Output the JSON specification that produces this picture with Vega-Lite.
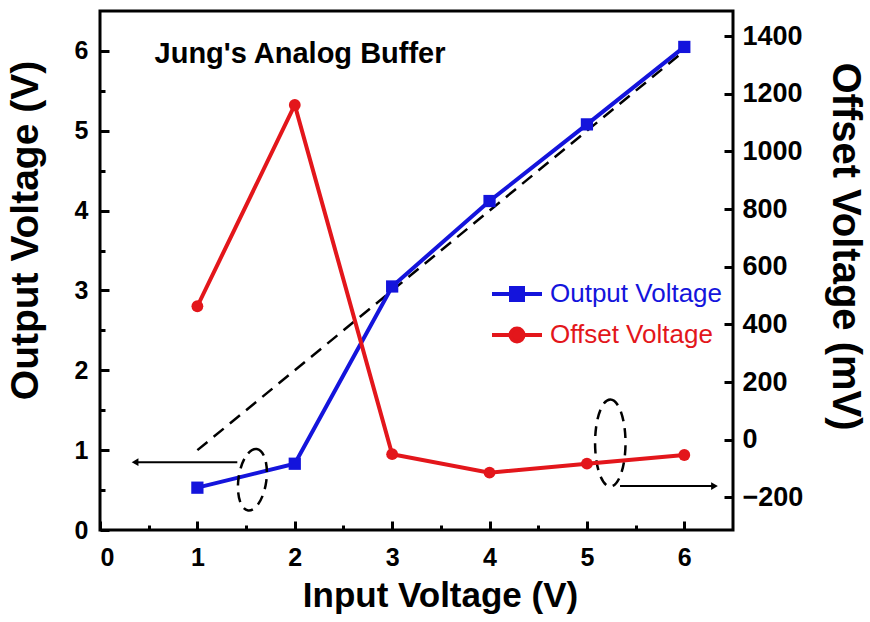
{
  "$schema": "https://vega.github.io/schema/vega-lite/v6.json",
  "width": 633,
  "height": 519,
  "autosize": "none",
  "padding": {"left": 100, "top": 11, "right": 137, "bottom": 92},
  "background": "white",
  "config": {
    "view": {"stroke": "black", "strokeWidth": 3},
    "font": "Liberation Sans",
    "axis": {
      "grid": false, "domain": false, "tickColor": "black", "tickWidth": 3, "labelOverlap": false,
      "labelFont": "Liberation Sans", "labelFontSize": 25, "labelFontWeight": "bold", "labelColor": "black",
      "titleFont": "Liberation Sans", "titleFontWeight": "bold", "titleColor": "black"
    }
  },
  "datasets": {
    "out": [
      {"x": 1, "v": 0.53, "s": "Output Voltage"},
      {"x": 2, "v": 0.83, "s": "Output Voltage"},
      {"x": 3, "v": 3.05, "s": "Output Voltage"},
      {"x": 4, "v": 4.12, "s": "Output Voltage"},
      {"x": 5, "v": 5.08, "s": "Output Voltage"},
      {"x": 6, "v": 6.05, "s": "Output Voltage"}
    ],
    "off": [
      {"x": 1, "v": 463, "s": "Offset Voltage"},
      {"x": 2, "v": 1161, "s": "Offset Voltage"},
      {"x": 3, "v": -50, "s": "Offset Voltage"},
      {"x": 4, "v": -114, "s": "Offset Voltage"},
      {"x": 5, "v": -83, "s": "Offset Voltage"},
      {"x": 6, "v": -53, "s": "Offset Voltage"}
    ],
    "ideal": [{"x": 1, "v": 1}, {"x": 6, "v": 6}],
    "arrows": [
      {"id": "L", "x": 1.41, "v": 0.85}, {"id": "L", "x": 0.36, "v": 0.85},
      {"id": "R", "x": 5.34, "v": 0.55}, {"id": "R", "x": 6.31, "v": 0.55}
    ],
    "heads": [{"dir": "left", "x": 0.36, "v": 0.85}, {"dir": "right", "x": 6.31, "v": 0.55}],
    "ellL": [{"x": 1.565, "v": 0.63}],
    "ellR": [{"x": 5.24, "v": 1.09}],
    "note": [{"x": 0.56, "v": 5.96, "label": "Jung's Analog Buffer"}]
  },
  "layer": [
    {
      "layer": [
        {
          "data": {"name": "ideal"},
          "mark": {"type": "line", "color": "black", "strokeDash": [13, 8], "strokeWidth": 2.5},
          "encoding": {
            "x": {"field": "x", "type": "quantitative", "scale": {"domain": [0, 6.5], "nice": false, "zero": false},
              "axis": {"title": "Input Voltage (V)", "titleFontSize": 35, "titleX": 340, "values": [0,0.5,1,1.5,2,2.5,3,3.5,4,4.5,5,5.5,6],
                "labelExpr": "datum.value % 1 === 0 ? format(datum.value, 'd') : ''",
                "tickSize": -9,
                "tickDash": {"condition": {"test": "datum.value % 1 !== 0", "value": [5, 30]}, "value": [20, 1]},
                "labelPadding": 24, "titlePadding": 8}},
            "y": {"field": "v", "type": "quantitative", "scale": {"domain": [0, 6.5], "nice": false, "zero": false},
              "axis": {"orient": "left", "title": "Output Voltage (V)", "titleFontSize": 39, "titleY": 219, "values": [0,0.5,1,1.5,2,2.5,3,3.5,4,4.5,5,5.5,6],
                "labelExpr": "datum.value % 1 === 0 ? format(datum.value, 'd') : ''",
                "tickSize": -9,
                "tickDash": {"condition": {"test": "datum.value % 1 !== 0", "value": [5, 30]}, "value": [20, 1]},
                "labelPadding": 21, "titlePadding": 29}}
          }
        },
        {
          "data": {"name": "out"},
          "mark": {"type": "line", "strokeWidth": 4},
          "encoding": {
            "x": {"field": "x", "type": "quantitative"},
            "y": {"field": "v", "type": "quantitative"},
            "color": {"field": "s", "type": "nominal",
              "scale": {"domain": ["Output Voltage", "Offset Voltage"], "range": ["#1414dc", "#e3161b"]},
              "legend": {"orient": "none", "legendX": 390, "legendY": 256, "title": null,
                "labelFont": "Liberation Sans", "labelFontSize": 26, "labelOffset": 6, "rowPadding": -9, "labelLimit": 400,
                "symbolSize": 2500, "symbolStrokeWidth": 4,
                "symbolType": {"expr": "datum.value == 'Output Voltage' ? 'M-1,0L-0.24,0M0.24,0L1,0M-0.24,-0.24H0.24V0.24H-0.24Z' : 'M-1,0L-0.26,0M0.26,0L1,0M0.26,0A0.26,0.26 0 1,1 -0.26,0A0.26,0.26 0 1,1 0.26,0Z'"},
                "labelColor": {"expr": "datum.value == 'Output Voltage' ? '#1414dc' : '#e3161b'"}}}
          }
        },
        {
          "data": {"name": "out"},
          "mark": {"type": "point", "shape": "square", "filled": true, "size": 150, "opacity": 1},
          "encoding": {
            "x": {"field": "x", "type": "quantitative"},
            "y": {"field": "v", "type": "quantitative"},
            "color": {"field": "s", "type": "nominal"}
          }
        },
        {
          "data": {"name": "arrows"},
          "mark": {"type": "line", "color": "black", "strokeWidth": 2},
          "encoding": {
            "x": {"field": "x", "type": "quantitative"},
            "y": {"field": "v", "type": "quantitative"},
            "detail": {"field": "id"}
          }
        },
        {
          "data": {"name": "heads"},
          "mark": {"type": "point", "filled": true, "color": "black", "size": 60, "opacity": 1},
          "encoding": {
            "x": {"field": "x", "type": "quantitative"},
            "y": {"field": "v", "type": "quantitative"},
            "shape": {"field": "dir", "type": "nominal", "scale": {"domain": ["left", "right"], "range": ["triangle-left", "triangle-right"]}, "legend": null}
          }
        },
        {
          "data": {"name": "ellL"},
          "mark": {"type": "point", "shape": "M0,-1A0.45,1 0 1,1 0,1A0.45,1 0 1,1 0,-1Z", "size": 3844, "filled": false, "color": "black", "strokeWidth": 2.5, "strokeDash": [10, 7], "angle": 8, "opacity": 1},
          "encoding": {
            "x": {"field": "x", "type": "quantitative"},
            "y": {"field": "v", "type": "quantitative"}
          }
        },
        {
          "data": {"name": "ellR"},
          "mark": {"type": "point", "shape": "M0,-1A0.35,1 0 1,1 0,1A0.35,1 0 1,1 0,-1Z", "size": 7569, "filled": false, "color": "black", "strokeWidth": 2.5, "strokeDash": [10, 7], "opacity": 1},
          "encoding": {
            "x": {"field": "x", "type": "quantitative"},
            "y": {"field": "v", "type": "quantitative"}
          }
        },
        {
          "data": {"name": "note"},
          "mark": {"type": "text", "align": "left", "baseline": "middle", "font": "Liberation Sans", "fontWeight": "bold", "fontSize": 29, "color": "black"},
          "encoding": {
            "x": {"field": "x", "type": "quantitative"},
            "y": {"field": "v", "type": "quantitative"},
            "text": {"field": "label"}
          }
        }
      ]
    },
    {
      "data": {"name": "off"},
      "layer": [
        {
          "mark": {"type": "line", "strokeWidth": 4},
          "encoding": {
            "x": {"field": "x", "type": "quantitative"},
            "y": {"field": "v", "type": "quantitative", "scale": {"domain": [-313, 1487], "nice": false, "zero": false},
              "axis": {"orient": "right", "title": "Offset Voltage (mV)", "titleFontSize": 40, "titleY": 235,
                "values": [-200, 0, 200, 400, 600, 800, 1000, 1200, 1400],
                "format": "d",
                "labelFontSize": 27,
                "tickSize": -9,
                "labelPadding": 18, "titlePadding": 22}},
            "color": {"field": "s", "type": "nominal"}
          }
        },
        {
          "mark": {"type": "point", "shape": "circle", "filled": true, "size": 140, "opacity": 1},
          "encoding": {
            "x": {"field": "x", "type": "quantitative"},
            "y": {"field": "v", "type": "quantitative"},
            "color": {"field": "s", "type": "nominal"}
          }
        }
      ]
    }
  ],
  "resolve": {"scale": {"y": "independent"}}
}
